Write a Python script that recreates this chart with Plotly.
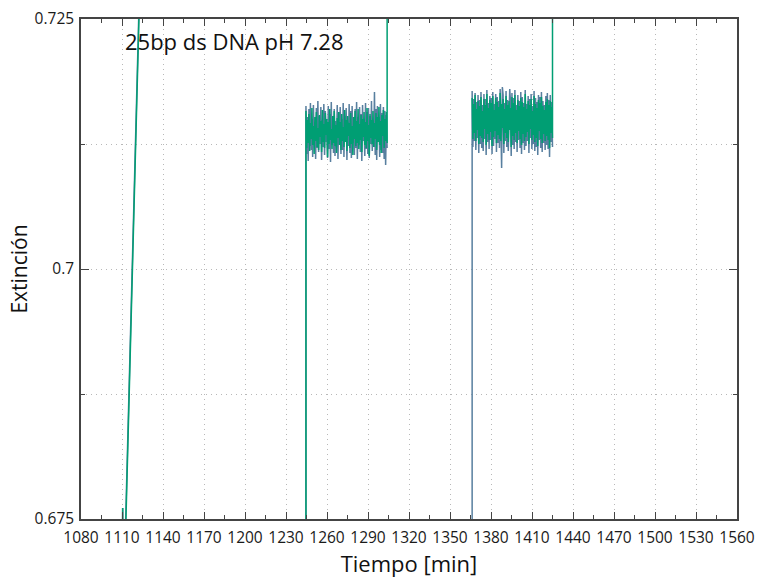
import numpy as np
import plotly.graph_objects as go

# ---------------------------------------------------------------------------
# Data: extinction vs. time for a 25bp ds DNA sample at pH 7.28
# ---------------------------------------------------------------------------

# Initial steep rise (two detector channels, nearly coincident)
rise_t_a = [1110.3, 1110.5, 1110.7, 1111.8, 1124.1]
rise_e_a = [0.668, 0.6761, 0.668, 0.6703, 0.735]
rise_t_b = [1110.2, 1110.5, 1110.8, 1112.0, 1124.3]
rise_e_b = [0.668, 0.6761, 0.668, 0.6703, 0.735]

# First plateau window (min) and the readings just before / after it
plateau1_start, plateau1_end = 1244.6, 1304.0
plateau1_before, plateau1_after = 0.620, 0.790

# Second plateau window (min) and the readings just before / after it
plateau2_start, plateau2_end = 1366.2, 1425.0
plateau2_before, plateau2_after = 0.620, 0.790

# Channel A (blue-grey) readings on plateau 1
plateau1_a = [
    0.7163, 0.7115, 0.7152, 0.7108, 0.7160, 0.7123, 0.7166, 0.7119, 0.7150, 0.7112,
    0.7164, 0.7126, 0.7147, 0.7110, 0.7161, 0.7121, 0.7168, 0.7117, 0.7153, 0.7125,
    0.7162, 0.7109, 0.7149, 0.7122, 0.7165, 0.7114, 0.7158, 0.7127, 0.7146, 0.7111,
    0.7163, 0.7120, 0.7155, 0.7107, 0.7167, 0.7124, 0.7151, 0.7116, 0.7160, 0.7113,
    0.7148, 0.7122, 0.7164, 0.7110, 0.7157, 0.7125, 0.7162, 0.7115, 0.7150, 0.7119,
    0.7166, 0.7112, 0.7153, 0.7127, 0.7161, 0.7109, 0.7147, 0.7123, 0.7165, 0.7116,
    0.7158, 0.7111, 0.7163, 0.7126, 0.7149, 0.7114, 0.7160, 0.7121, 0.7167, 0.7110,
    0.7152, 0.7124, 0.7162, 0.7117, 0.7155, 0.7108, 0.7164, 0.7128, 0.7150, 0.7113,
    0.7166, 0.7120, 0.7157, 0.7115, 0.7161, 0.7111, 0.7153, 0.7125, 0.7168, 0.7118,
    0.7149, 0.7122, 0.7177, 0.7114, 0.7160, 0.7109, 0.7163, 0.7127, 0.7152, 0.7112,
    0.7165, 0.7119, 0.7156, 0.7116, 0.7162, 0.7110, 0.7158, 0.7104, 0.7154, 0.7121,
]

# Channel B (green) readings on plateau 1
plateau1_b = [
    0.7158, 0.7121, 0.7149, 0.7126, 0.7155, 0.7118, 0.7146, 0.7130, 0.7161, 0.7124,
    0.7143, 0.7115, 0.7152, 0.7128, 0.7157, 0.7122, 0.7141, 0.7119, 0.7154, 0.7132,
    0.7148, 0.7117, 0.7159, 0.7127, 0.7145, 0.7121, 0.7156, 0.7134, 0.7150, 0.7112,
    0.7147, 0.7125, 0.7160, 0.7129, 0.7140, 0.7120, 0.7153, 0.7126, 0.7158, 0.7123,
    0.7144, 0.7116, 0.7151, 0.7131, 0.7157, 0.7124, 0.7147, 0.7119, 0.7155, 0.7128,
    0.7142, 0.7122, 0.7159, 0.7127, 0.7149, 0.7118, 0.7153, 0.7133, 0.7146, 0.7121,
    0.7156, 0.7125, 0.7143, 0.7114, 0.7152, 0.7130, 0.7158, 0.7123, 0.7148, 0.7126,
    0.7160, 0.7120, 0.7145, 0.7129, 0.7154, 0.7117, 0.7150, 0.7132, 0.7157, 0.7124,
    0.7147, 0.7121, 0.7161, 0.7128, 0.7144, 0.7113, 0.7155, 0.7131, 0.7149, 0.7125,
    0.7158, 0.7122, 0.7146, 0.7130, 0.7156, 0.7119, 0.7152, 0.7127, 0.7162, 0.7124,
    0.7148, 0.7116, 0.7154, 0.7133, 0.7159, 0.7121, 0.7150, 0.7128, 0.7157, 0.7126,
]

# Channel A (blue-grey) readings on plateau 2
plateau2_a = [
    0.7178, 0.7122, 0.7170, 0.7128, 0.7176, 0.7119, 0.7167, 0.7131, 0.7174, 0.7116,
    0.7169, 0.7125, 0.7177, 0.7121, 0.7164, 0.7118, 0.7175, 0.7130, 0.7170, 0.7114,
    0.7179, 0.7127, 0.7166, 0.7120, 0.7173, 0.7129, 0.7171, 0.7115, 0.7177, 0.7123,
    0.7165, 0.7130, 0.7175, 0.7117, 0.7172, 0.7126, 0.7168, 0.7121, 0.7180, 0.7119,
    0.7101, 0.7182, 0.7174, 0.7116, 0.7166, 0.7128, 0.7178, 0.7122, 0.7169, 0.7118,
    0.7173, 0.7180, 0.7167, 0.7113, 0.7176, 0.7124, 0.7171, 0.7120, 0.7179, 0.7127,
    0.7164, 0.7117, 0.7174, 0.7129, 0.7168, 0.7121, 0.7177, 0.7115, 0.7172, 0.7126,
    0.7166, 0.7119, 0.7179, 0.7123, 0.7165, 0.7128, 0.7173, 0.7116, 0.7170, 0.7131,
    0.7175, 0.7120, 0.7163, 0.7125, 0.7178, 0.7118, 0.7171, 0.7122, 0.7167, 0.7114,
    0.7174, 0.7129, 0.7172, 0.7121, 0.7177, 0.7117, 0.7168, 0.7126, 0.7164, 0.7119,
    0.7173, 0.7124, 0.7176, 0.7120, 0.7169, 0.7112, 0.7174, 0.7127, 0.7167, 0.7122,
]

# Channel B (green) readings on plateau 2
plateau2_b = [
    0.7171, 0.7130, 0.7165, 0.7136, 0.7174, 0.7128, 0.7160, 0.7139, 0.7168, 0.7125,
    0.7163, 0.7133, 0.7172, 0.7131, 0.7158, 0.7127, 0.7170, 0.7140, 0.7164, 0.7124,
    0.7175, 0.7135, 0.7161, 0.7129, 0.7169, 0.7137, 0.7166, 0.7123, 0.7173, 0.7132,
    0.7159, 0.7138, 0.7171, 0.7126, 0.7167, 0.7134, 0.7162, 0.7130, 0.7176, 0.7128,
    0.7165, 0.7141, 0.7170, 0.7125, 0.7160, 0.7136, 0.7173, 0.7131, 0.7164, 0.7127,
    0.7168, 0.7139, 0.7161, 0.7122, 0.7172, 0.7133, 0.7166, 0.7129, 0.7174, 0.7136,
    0.7159, 0.7126, 0.7169, 0.7138, 0.7163, 0.7130, 0.7171, 0.7124, 0.7167, 0.7135,
    0.7162, 0.7128, 0.7175, 0.7132, 0.7160, 0.7137, 0.7168, 0.7125, 0.7164, 0.7140,
    0.7170, 0.7129, 0.7158, 0.7134, 0.7173, 0.7127, 0.7165, 0.7131, 0.7161, 0.7123,
    0.7169, 0.7138, 0.7166, 0.7130, 0.7172, 0.7126, 0.7163, 0.7135, 0.7159, 0.7128,
    0.7167, 0.7133, 0.7170, 0.7129, 0.7164, 0.7121, 0.7168, 0.7136, 0.7162, 0.7131,
]

# Axis ticks
x_ticks = list(range(1080, 1561, 30))
y_tickvals = [0.675, 0.7, 0.725]
y_ticktext = ["0.675", "0.7", "0.725"]

title_text = "25bp ds DNA pH 7.28"
x_title = "Tiempo [min]"
y_title = "Extinción"

# ---------------------------------------------------------------------------
# Assemble the line series (None separates unconnected segments)
# ---------------------------------------------------------------------------


def sample_times(start, end, n):
    # readings are taken at a regular interval across each window
    return list(np.linspace(start, end, n))


t1a = sample_times(plateau1_start, plateau1_end, len(plateau1_a))
t1b = sample_times(plateau1_start, plateau1_end, len(plateau1_b))
t2a = sample_times(plateau2_start, plateau2_end, len(plateau2_a))
t2b = sample_times(plateau2_start, plateau2_end, len(plateau2_b))

chan_a_t = (rise_t_a + [None]
            + [plateau1_start] + t1a + [None]
            + [plateau2_start] + t2a)
chan_a_e = (rise_e_a + [None]
            + [plateau1_before] + plateau1_a + [None]
            + [plateau2_before] + plateau2_a)

chan_b_t = (rise_t_b + [None]
            + [plateau1_start] + t1b + [plateau1_end] + [None]
            + t2b + [plateau2_end])
chan_b_e = (rise_e_b + [None]
            + [plateau1_before] + plateau1_b + [plateau1_after] + [None]
            + plateau2_b + [plateau2_after])

BLUE = "#587f9f"
GREEN = "#009e73"
AXIS = "#444444"
GRID = "#b8b8b8"
GRID_DASH = "1px,4px"
FONT = "Open Sans, Noto Sans, DejaVu Sans, sans-serif"

fig = go.Figure()
fig.add_trace(go.Scatter(x=chan_a_t, y=chan_a_e, mode="lines",
                         line=dict(color=BLUE, width=1.5),
                         connectgaps=False, showlegend=False))
fig.add_trace(go.Scatter(x=chan_b_t, y=chan_b_e, mode="lines",
                         line=dict(color=GREEN, width=1.5),
                         connectgaps=False, showlegend=False))

fig.add_annotation(text=title_text, xref="paper", yref="paper",
                   x=0.064, y=0.956, xanchor="left", yanchor="middle",
                   showarrow=False, font=dict(family=FONT, size=22, color="#111111"))

fig.update_layout(
    width=758, height=578,
    margin=dict(l=81, r=21, t=19, b=59),
    paper_bgcolor="white", plot_bgcolor="white",
    font=dict(family=FONT, color="#1a1a1a"),
    xaxis=dict(
        range=[1080, 1560], tickmode="array", tickvals=x_ticks,
        ticks="inside", ticklen=7, tickwidth=1, tickcolor=AXIS,
        showline=True, linecolor=AXIS, linewidth=1.5, mirror="ticks",
        showgrid=True, gridcolor=GRID, griddash=GRID_DASH, gridwidth=1,
        zeroline=False,
        minor=dict(dtick=15, tick0=1080, ticks="inside", ticklen=4,
                   tickcolor=AXIS, showgrid=False),
        tickfont=dict(family=FONT, size=15.5, color="#1a1a1a"),
        ticklabelstandoff=4,
        title=dict(text=x_title, font=dict(family=FONT, size=22, color="#111111"),
                   standoff=11),
        automargin=False,
    ),
    yaxis=dict(
        range=[0.675, 0.725], tickmode="array", tickvals=y_tickvals,
        ticktext=y_ticktext,
        ticks="inside", ticklen=8, tickwidth=1, tickcolor=AXIS,
        showline=True, linecolor=AXIS, linewidth=1.5, mirror="ticks",
        showgrid=True, gridcolor=GRID, griddash=GRID_DASH, gridwidth=1,
        zeroline=False,
        minor=dict(dtick=0.0125, tick0=0.675, ticks="inside", ticklen=4,
                   tickcolor=AXIS, showgrid=True, gridcolor=GRID,
                   griddash=GRID_DASH, gridwidth=1),
        tickfont=dict(family=FONT, size=15.5, color="#1a1a1a"),
        ticklabelstandoff=2,
        title=dict(text=y_title, font=dict(family=FONT, size=21, color="#111111"),
                   standoff=1),
        automargin=False,
    ),
)

fig.write_html("out.html")
